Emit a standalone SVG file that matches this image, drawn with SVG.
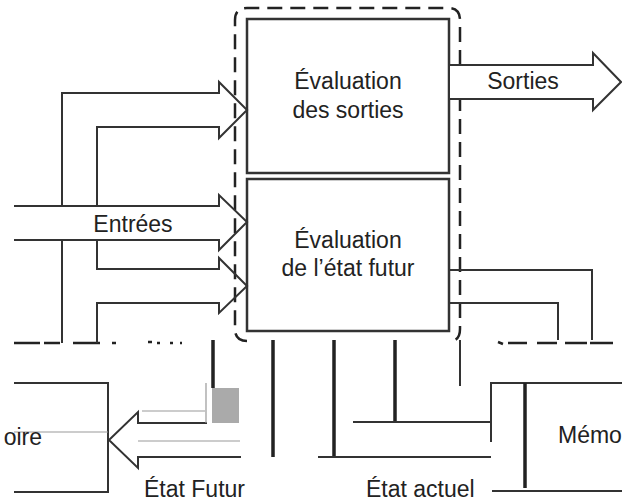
<svg xmlns="http://www.w3.org/2000/svg" width="622" height="503" viewBox="0 0 622 503">
<style>
.box{fill:#fff;stroke:#333;stroke-width:2.5}
.ln{fill:none;stroke:#333;stroke-width:2}
.thk{fill:none;stroke:#222;stroke-width:3.5}
.thin{fill:none;stroke:#999;stroke-width:1.2}
.dash{fill:none;stroke:#222;stroke-width:2.5;stroke-dasharray:15 8}
.sd{fill:none;stroke:#222;stroke-width:2.5}
.t{font-family:"Liberation Sans",Arial,sans-serif;font-size:23px;fill:#222}
</style>
<rect width="622" height="503" fill="#fff"/>
<g id="boundary">
<path class="dash" d="M247,341 Q235,341 235,329 V20 Q235,8 247,8 H448 Q460,8 460,20 V329 Q460,341 450,341"/>
<path class="sd" d="M14,343 H40 M44,343 H60 M73,343 H100 M112,343 H116 M148,342 H152 M157,343 H160 M170,343 H173 M180,343 H182 M498,342 L503,344 M508,343 H527 M537,343 H557 M565,343 H587 M590,343 H613"/>
</g>
<g id="box-eval-sorties">
<rect class="box" x="247" y="19" width="202" height="154"/>
<text class="t" x="348" y="89" text-anchor="middle">Évaluation</text>
<text class="t" x="348" y="118" text-anchor="middle">des sorties</text>
</g>
<g id="box-eval-etat">
<rect class="box" x="247" y="179" width="202" height="152"/>
<text class="t" x="348" y="248" text-anchor="middle">Évaluation</text>
<text class="t" x="348" y="276" text-anchor="middle">de l’état futur</text>
</g>
<g id="memoire-left">
<path class="ln" d="M14,383 H108 V492 H14"/>
<path class="thin" d="M14,432 H108"/>
<text class="t" x="42" y="445" text-anchor="end">oire</text>
</g>
<g id="memoire-right">
<path class="ln" d="M622,383 H491 V442"/>
<path class="ln" d="M492,491 H622"/>
<path class="thk" d="M525,383 V488"/>
<text class="t" x="558" y="443">Mémo</text>
</g>
<g id="connectors">
<path class="ln" d="M62,343 V240 M62,206 V93 H219 V82 L247,110 L219,138 V127 H97 V206"/>
<path class="ln" d="M14,206 H219 V195 L247,222 L219,250 V240 H14"/>
<path class="ln" d="M97,240 V269 H219 V258 L247,286 L219,313 V303 H97 V343"/>
<path class="ln" d="M449,65 H593 V53 L621,82 L593,110 V99 H449 Z" fill="#fff" style="fill:#fff"/>
<path class="ln" d="M449,65 H449"/>
<path class="ln" d="M449,270 H592 V340 M449,303 H558 V340"/>
<path class="ln" d="M460,340 V386"/>
<path class="thk" d="M213,340 V388 M273,340 V457 M334,340 V457 M395,340 V421"/>
<rect x="212" y="388" width="27" height="35" fill="#aaa"/>
<path class="ln" d="M353,422 H491 M318,457 H491"/>
<path class="ln" d="M207,423 H138 V412 L109,440 L138,468 V457 H241"/>
<path class="thin" d="M142,411 H205 M206,383 V423 M138,441 H240"/>
</g>
<g id="labels">
<text class="t" x="133" y="232" text-anchor="middle">Entrées</text>
<text class="t" x="523" y="89" text-anchor="middle">Sorties</text>
<text class="t" x="144" y="497">État Futur</text>
<text class="t" x="366" y="497">État actuel</text>
</g>
</svg>
